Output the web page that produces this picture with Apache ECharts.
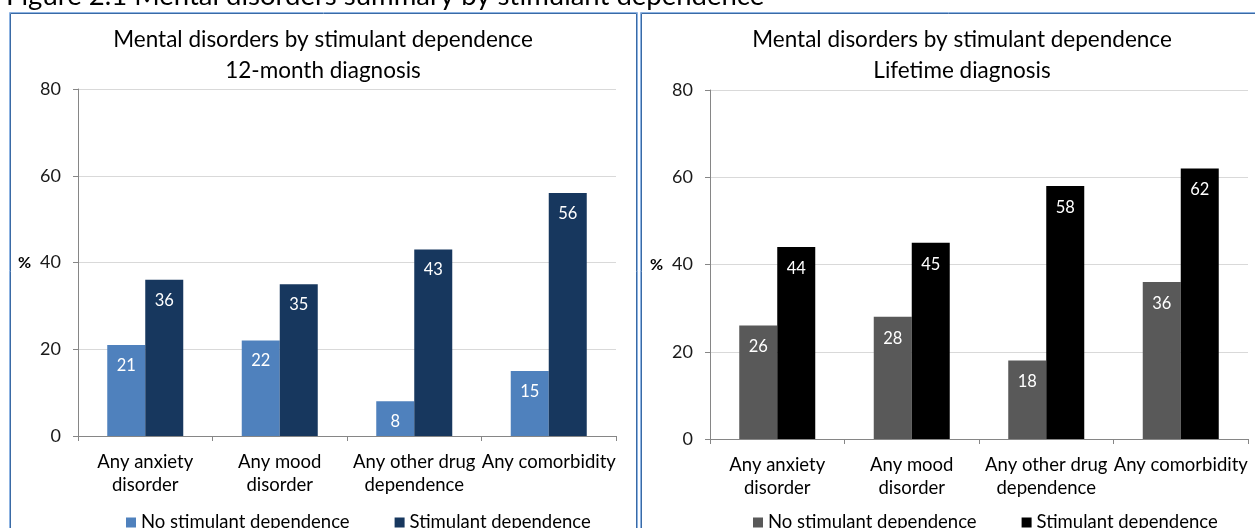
<!DOCTYPE html>
<html>
<head>
<meta charset="utf-8">
<script src="https://cdn.jsdelivr.net/npm/echarts@6/dist/echarts.min.js"></script>
<style>
  html, body { margin: 0; padding: 0; background: #fff; }
  #chart { width: 1255px; height: 528px; }
</style>
</head>
<body>
<div id="chart"></div>
<script>
// Categories shared by both panels
const categories = ['Any anxiety\ndisorder', 'Any mood\ndisorder', 'Any other drug\ndependence', 'Any comorbidity'];

// 12-month diagnosis (%)
const noStim12m = [21, 22, 8, 15];
const stim12m = [36, 35, 43, 56];

// Lifetime diagnosis (%)
const noStimLife = [26, 28, 18, 36];
const stimLife = [44, 45, 58, 62];

// Value axis ticks
const yMin = 0;
const yMax = 80;
const yStep = 20;

const seriesNames = ['No stimulant dependence', 'Stimulant dependence'];

const FONT = 'Lato, "Liberation Sans", sans-serif';

const chart = echarts.init(document.getElementById('chart'), null, { renderer: 'canvas' });

function valueAxis(gridIndex) {
  return {
    type: 'value', gridIndex: gridIndex, min: yMin, max: yMax, interval: yStep,
    name: '%', nameLocation: 'middle', nameRotate: 0, nameGap: 47, nameMoveOverlap: false,
    nameTextStyle: { fontFamily: FONT, fontSize: 16, fontWeight: 'bold', color: '#000', align: 'right', verticalAlign: 'middle' },
    axisLine: { show: true, lineStyle: { color: '#868686', width: 1 } },
    axisTick: { show: true, length: 5, lineStyle: { color: '#868686' } },
    axisLabel: { fontFamily: FONT, fontSize: 18, color: '#1a1a1a', margin: 17 },
    splitLine: { show: true, lineStyle: { color: '#d9d9d9', width: 1 } }
  };
}

function categoryAxis(gridIndex) {
  return {
    type: 'category', gridIndex: gridIndex, data: categories,
    axisLine: { show: true, lineStyle: { color: '#868686', width: 1 } },
    axisTick: { show: true, length: 5, alignWithLabel: false, interval: 0, lineStyle: { color: '#868686' } },
    axisLabel: { fontFamily: FONT, fontSize: 18.5, lineHeight: 23, color: '#000', margin: 15, interval: 0 },
    splitLine: { show: false }
  };
}

function barSeries(name, data, color, axisIndex, labelDistance) {
  return {
    type: 'bar', name: name, data: data,
    xAxisIndex: axisIndex, yAxisIndex: axisIndex,
    barWidth: 38, barGap: '0%',
    itemStyle: { color: color },
    label: {
      show: true, position: 'insideTop', distance: labelDistance,
      fontFamily: FONT, fontSize: 16.5, color: '#fff'
    },
    emphasis: { disabled: true }
  };
}

function legendFor(left, colors) {
  return {
    left: left, top: 508, icon: 'rect', itemWidth: 10, itemHeight: 10, itemGap: 45,
    textStyle: { fontFamily: FONT, fontSize: 18.5, color: '#000' },
    selectedMode: false,
    data: [
      { name: seriesNames[0], itemStyle: { color: colors[0] } },
      { name: seriesNames[1], itemStyle: { color: colors[1] } }
    ]
  };
}

function titleLines(cx, line1, line2) {
  return [
    { type: 'text', x: cx, y: 40, style: { text: line1, fontFamily: FONT, fontSize: 22.5, fill: '#000', align: 'center', verticalAlign: 'middle' } },
    { type: 'text', x: cx, y: 71, style: { text: line2, fontFamily: FONT, fontSize: 22.5, fill: '#000', align: 'center', verticalAlign: 'middle' } }
  ];
}

function panelFrame(x, y, w, h) {
  return [
    { type: 'rect', shape: { x: x + 0.5, y: y + 0.5, width: w, height: h }, style: { fill: null, stroke: '#8db3e2', lineWidth: 1 } },
    { type: 'rect', shape: { x: x + 1.5, y: y + 1.5, width: w - 2, height: h - 2 }, style: { fill: null, stroke: '#3a6aa5', lineWidth: 1 } }
  ];
}

const option = {
  backgroundColor: '#fff',
  animation: false,
  grid: [
    { left: 78, top: 89, width: 538, height: 347 },
    { left: 710, top: 90, width: 538, height: 349 }
  ],
  xAxis: [categoryAxis(0), categoryAxis(1)],
  yAxis: [valueAxis(0), valueAxis(1)],
  legend: [
    legendFor(121, ['#4f81bd', '#17375e']),
    legendFor(748, ['#595959', '#000000'])
  ],
  series: [
    barSeries(seriesNames[0], noStim12m, '#4f81bd', 0, 12),
    barSeries(seriesNames[1], stim12m, '#17375e', 0, 12),
    barSeries(seriesNames[0], noStimLife, '#595959', 1, 13),
    barSeries(seriesNames[1], stimLife, '#000000', 1, 13)
  ],
  graphic: [
    { type: 'text', x: 6, y: 10, style: { text: 'Figure 2.1 Mental disorders summary by stimulant dependence', fontFamily: FONT, fontSize: 27.5, fill: '#000', align: 'left', verticalAlign: 'bottom' } },
    ...panelFrame(9, 12, 628, 540),
    ...panelFrame(640, 12, 642, 540),
    ...titleLines(323, 'Mental disorders by stimulant dependence', '12-month diagnosis'),
    ...titleLines(962, 'Mental disorders by stimulant dependence', 'Lifetime diagnosis')
  ]
};

chart.setOption(option);
</script>
</body>
</html>
